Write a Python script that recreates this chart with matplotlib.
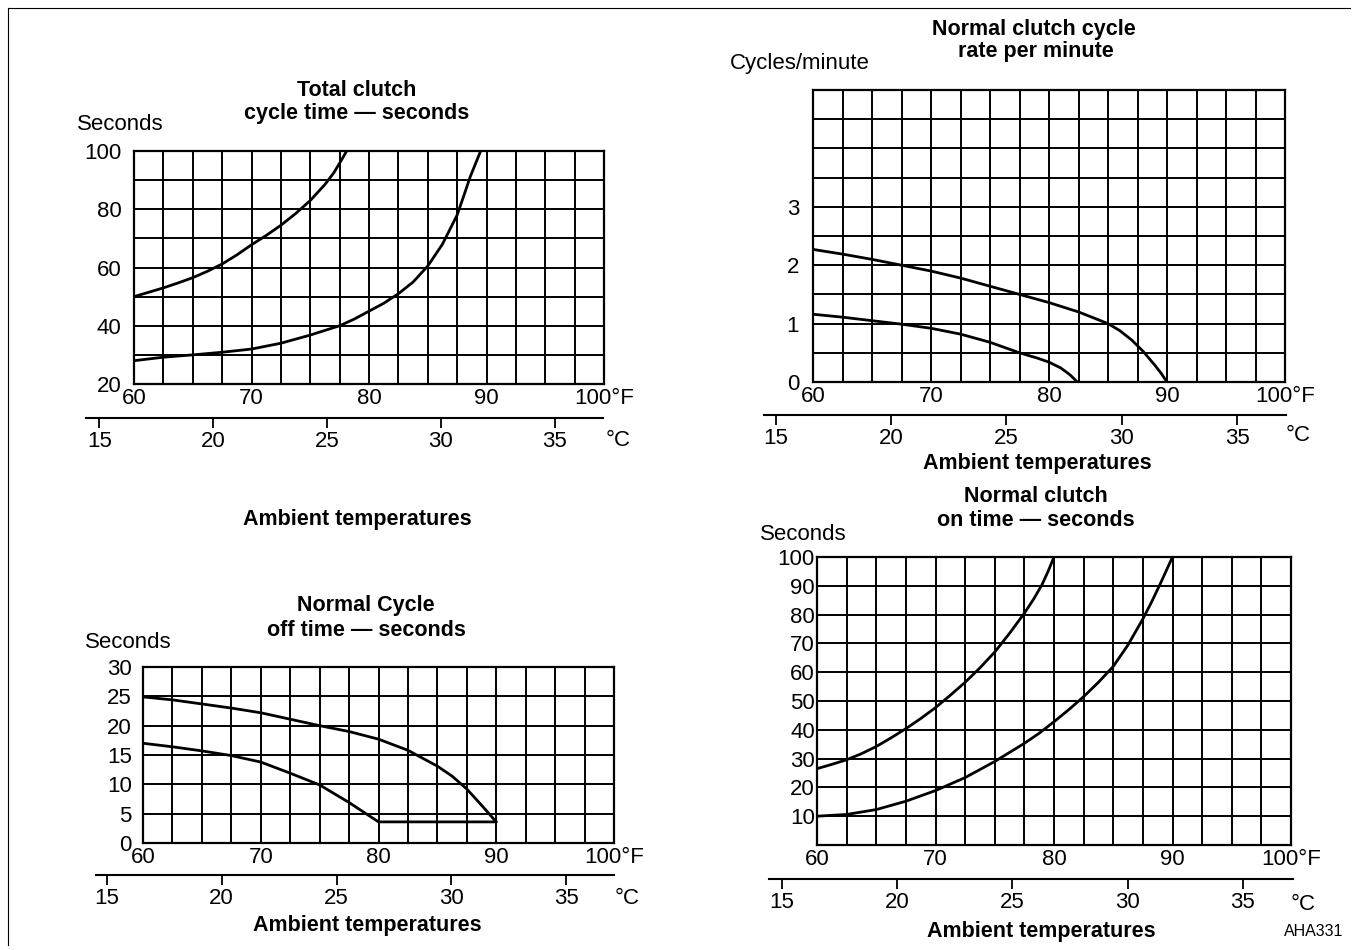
import numpy as np
import matplotlib
matplotlib.use('Agg')
import matplotlib.pyplot as plt
from matplotlib.lines import Line2D

plt.rcParams['font.family'] = ['Liberation Sans', 'DejaVu Sans']

W, H, DPI = 1357, 950, 100

# ---------------- data ----------------
f_grid = np.arange(60, 100.01, 2.5)
f_ticks = [60, 70, 80, 90, 100]
f_ticklabels = ['60', '70', '80', '90', '100°F']
c_ticks = [15, 20, 25, 30, 35]

# Panel 1 - Total clutch cycle time (seconds)
p1_upper_f = [60, 61.25, 62.5, 63.75, 65, 66.25, 67.5, 68.75, 70, 71.25, 72.5,
              73.75, 75, 76.25, 77, 77.6, 78.1]
p1_upper_s = [50, 51.5, 53, 54.7, 56.5, 58.7, 61.2, 64.3, 67.8, 71, 74.5,
              78.5, 83, 88.5, 92.5, 96.5, 100]
p1_lower_f = [60, 62.5, 65, 67.5, 70, 72.5, 75, 77.5, 78.75, 80, 81.25, 82.5,
              83.75, 85, 86.25, 87.5, 88.1, 88.6, 89.1, 89.5]
p1_lower_s = [28, 29.2, 30, 30.9, 32, 34, 36.8, 40, 42.3, 45, 47.7, 51,
              55, 60.5, 68, 78, 85, 91, 96, 100]
p1_yticks = [20, 40, 60, 80, 100]

# Panel 2 - Normal clutch cycle rate per minute
p2_upper_f = [60, 62.5, 65, 67.5, 70, 72.5, 75, 77.5, 80, 82.5, 84, 85, 86,
              87, 88, 89, 89.5, 90]
p2_upper_c = [2.27, 2.19, 2.1, 2.0, 1.9, 1.78, 1.64, 1.5, 1.36, 1.2, 1.08, 1.0,
              0.88, 0.72, 0.52, 0.28, 0.15, 0]
p2_lower_f = [60, 62.5, 65, 67.5, 70, 72.5, 75, 77.5, 79, 80, 81, 81.8, 82.4]
p2_lower_c = [1.16, 1.11, 1.05, 0.99, 0.92, 0.82, 0.68, 0.5, 0.41, 0.34, 0.24,
              0.12, 0]
p2_yticks = [0, 1, 2, 3]

# Panel 3 - Normal cycle off time (seconds)
p3_upper_f = [60, 62.5, 65, 67.5, 70, 72.5, 75, 77.5, 80, 82.5, 85, 86.25,
              87.5, 88.5, 89.3, 90]
p3_upper_s = [24.9, 24.4, 23.7, 23.0, 22.2, 21.1, 20.0, 19.0, 17.7, 15.8, 13.1,
              11.4, 9.2, 7.0, 5.2, 3.6]
p3_lower_f = [60, 62.5, 65, 67.5, 70, 72.5, 75, 77.5, 80, 90]
p3_lower_s = [17.0, 16.4, 15.7, 14.9, 13.8, 11.9, 9.9, 6.9, 3.6, 3.6]
p3_yticks = [0, 5, 10, 15, 20, 25, 30]

# Panel 4 - Normal clutch on time (seconds)
p4_upper_f = [60, 61.25, 62.5, 63.75, 65, 66.25, 67.5, 68.75, 70, 71.25, 72.5,
              73.75, 75, 76.25, 77.5, 78.3, 79, 79.5, 80]
p4_upper_s = [26.5, 28, 29.6, 31.7, 34.2, 37.2, 40.4, 43.9, 47.7, 52, 56.5,
              61.5, 67, 73.5, 80.5, 85.5, 90.5, 95, 100]
p4_lower_f = [60, 62.5, 65, 67.5, 70, 72.5, 75, 77.5, 78.75, 80, 81.25, 82.5,
              83.75, 85, 86.25, 87.5, 88.25, 89, 89.5, 90]
p4_lower_s = [10, 10.6, 12.3, 15.2, 18.9, 23.4, 29, 35.3, 38.8, 42.8, 47,
              51.5, 56.5, 62, 69.5, 78.5, 84.5, 91, 95.5, 100]
p4_yticks = [10, 20, 30, 40, 50, 60, 70, 80, 90, 100]

FS = 16
FS_BOLD = 15.5
LW_GRID = 1.4
LW_CURVE = 2.0

fig = plt.figure(figsize=(W / DPI, H / DPI), dpi=DPI)


def px_axes(x0, y0, x1, y1):
    return fig.add_axes([x0 / W, 1 - y1 / H, (x1 - x0) / W, (y1 - y0) / H])


def main_panel(box, ylim, ystep, ylabeled, ypad):
    ax = px_axes(*box)
    ax.set_xlim(60, 100)
    ax.set_ylim(*ylim)
    ax.set_xticks(f_grid)
    ax.set_xticklabels([f_ticklabels[f_ticks.index(v)] if v in f_ticks else ''
                        for v in f_grid])
    yg = np.arange(ylim[0], ylim[1] + ystep / 2, ystep)
    ax.set_yticks(yg)
    ax.set_yticklabels([('%g' % v) if any(abs(v - t) < 1e-9 for t in ylabeled) else ''
                        for v in yg])
    ax.tick_params(axis='x', length=0, labelsize=FS, pad=3)
    ax.tick_params(axis='y', length=0, labelsize=FS, pad=ypad)
    ax.grid(True, color='black', lw=LW_GRID)
    for s in ax.spines.values():
        s.set_linewidth(1.6)
    ax.set_axisbelow(True)
    return ax


def curve(ax, xs, ys):
    ax.plot(xs, ys, color='black', lw=LW_CURVE, solid_joinstyle='round',
            solid_capstyle='round')


def celsius_axis(x0, x1, y, tick_px):
    slope, icpt = np.polyfit(c_ticks, tick_px, 1)
    cax = fig.add_axes([x0 / W, 1 - y / H, (x1 - x0) / W, 0.0001])
    cax.set_xlim((x0 - icpt) / slope, (x1 - icpt) / slope)
    cax.set_facecolor('none')
    for k in ('top', 'left', 'right'):
        cax.spines[k].set_visible(False)
    cax.spines['bottom'].set_linewidth(1.5)
    cax.set_yticks([])
    cax.set_xticks(c_ticks)
    cax.set_xticklabels([str(c) for c in c_ticks])
    cax.tick_params(axis='x', direction='out', length=7, width=1.3,
                    labelsize=FS, pad=2.5)
    return cax


def ftext(x, y, s, bold=False, size=None, ha='center'):
    if size is None:
        size = FS_BOLD if bold else FS
    fig.text(x / W, 1 - y / H, s, ha=ha, va='center', fontsize=size,
             fontweight='bold' if bold else 'normal')


# ---- Panel 1 ----
ax1 = main_panel((134, 151, 604, 384), (20, 100), 10, p1_yticks, 9)
curve(ax1, p1_upper_f, p1_upper_s)
curve(ax1, p1_lower_f, p1_lower_s)
celsius_axis(86, 603, 418, [104.7, 207.5, 324.3, 441.2, 557.2])
ftext(357, 90, 'Total clutch', bold=True)
ftext(357, 114, 'cycle time — seconds', bold=True)
ftext(120, 124, 'Seconds')
ftext(618, 440, '°C')
ftext(357, 519, 'Ambient temperatures', bold=True)

# ---- Panel 2 ----
ax2 = main_panel((813, 90, 1285, 382), (0, 5), 0.5, p2_yticks, 10)
curve(ax2, p2_upper_f, p2_upper_c)
curve(ax2, p2_lower_f, p2_lower_c)
celsius_axis(764, 1286, 415, [781.3, 885.5, 1003.6, 1122, 1240])
ftext(1034, 29, 'Normal clutch cycle', bold=True)
ftext(1036, 52, 'rate per minute', bold=True)
ftext(800, 64, 'Cycles/minute')
ftext(1298, 436, '°C')
ftext(1037, 463, 'Ambient temperatures', bold=True)

# ---- Panel 3 ----
ax3 = main_panel((143, 667, 614, 843), (0, 30), 5, p3_yticks, 8)
curve(ax3, p3_upper_f, p3_upper_s)
curve(ax3, p3_lower_f, p3_lower_s)
celsius_axis(96, 614, 875, [112.3, 216.6, 333.5, 451.5, 569])
ftext(366, 606, 'Normal Cycle', bold=True)
ftext(366, 630, 'off time — seconds', bold=True)
ftext(128, 643, 'Seconds')
ftext(627, 898, '°C')
ftext(367, 926, 'Ambient temperatures', bold=True)

# ---- Panel 4 ----
ax4 = main_panel((817, 557, 1291, 845), (0, 100), 10, p4_yticks, 1.5)
curve(ax4, p4_upper_f, p4_upper_s)
curve(ax4, p4_lower_f, p4_lower_s)
celsius_axis(769, 1293, 879, [787, 892, 1009, 1127, 1246])
ftext(1036, 496, 'Normal clutch', bold=True)
ftext(1036, 520, 'on time — seconds', bold=True)
ftext(803, 534, 'Seconds')
ftext(1303, 905, '°C')
ftext(1041, 932, 'Ambient temperatures', bold=True)
ftext(1314, 932, 'AHA331', size=11.5)

# outer frame lines
fig.add_artist(Line2D([8 / W, 1350 / W], [1 - 8 / H, 1 - 8 / H], color='black', lw=0.8))
fig.add_artist(Line2D([8 / W, 8 / W], [1 - 8 / H, 1 - 945 / H], color='black', lw=0.8))

fig.savefig('out.png', dpi=DPI)
